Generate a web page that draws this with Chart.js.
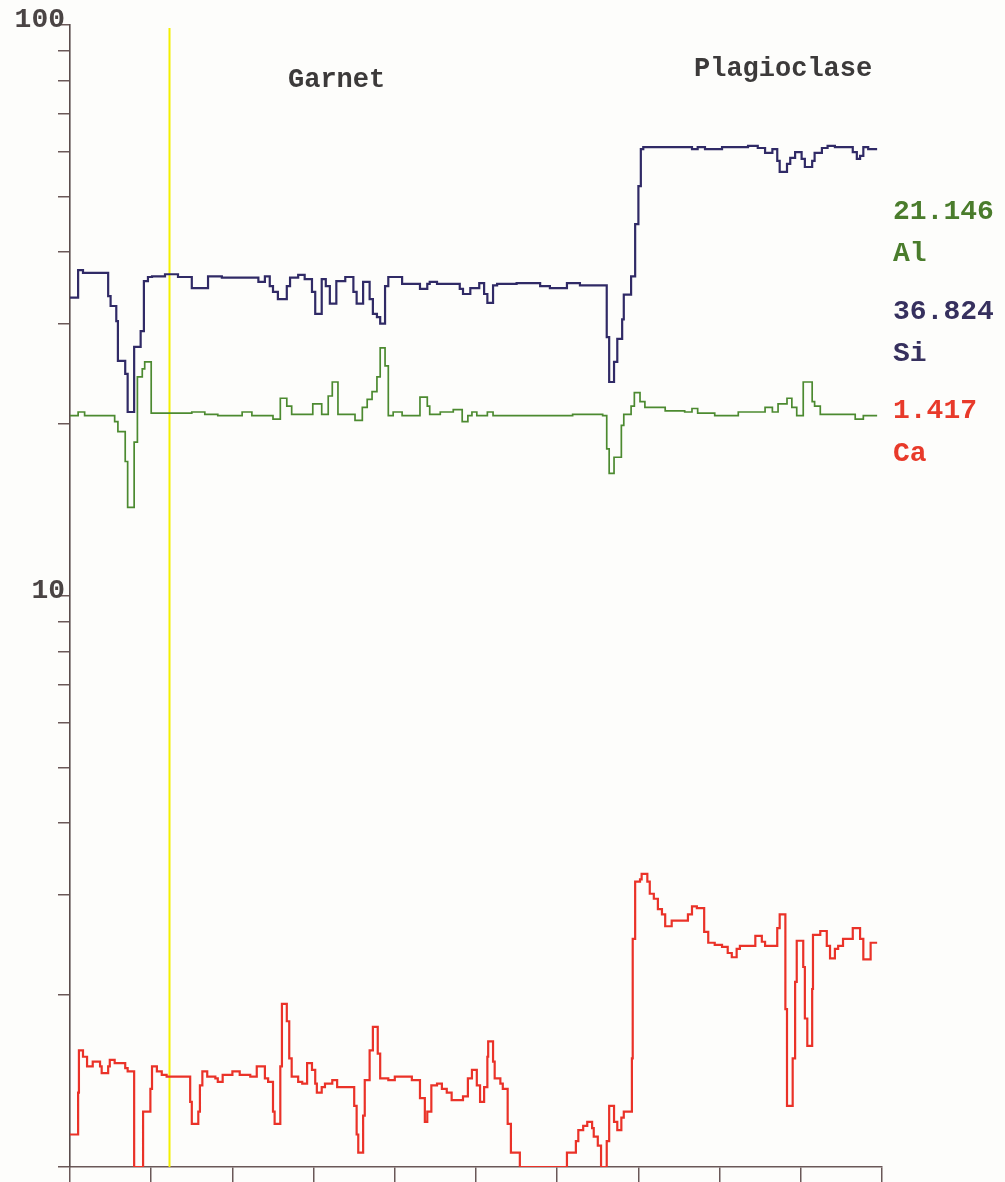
<!DOCTYPE html>
<html>
<head>
<meta charset="utf-8">
<title>Garnet / Plagioclase line scan</title>
<script src="https://cdn.jsdelivr.net/npm/chart.js@4.4.1/dist/chart.umd.min.js"></script>
<style>
  html, body { margin: 0; padding: 0; background: #fdfdfb; }
  #wrap { position: relative; width: 1005px; height: 1182px; }
</style>
</head>
<body>
<div id="wrap"><canvas id="scanChart"></canvas></div>
<script>

// DATA ######################################################################
// step positions along the scan (0-100) and the value holding from each one

var siPos = [0, 1.0, 1.6, 4.7, 5.0, 5.7, 5.9, 6.8, 7.1, 7.9, 8.7, 9.1, 9.6, 10.1, 11.7, 13.3, 15.0, 17.0, 18.7, 23.2,
    24.0, 24.6, 25.0, 25.6, 26.7, 27.1, 28.1, 28.9, 29.8, 30.2, 31.0, 31.5, 32.0, 32.8, 33.9, 34.9, 35.3, 36.1, 36.9, 37.3,
    37.8, 38.2, 38.8, 39.2, 40.9, 43.1, 44.0, 44.3, 45.2, 48.0, 48.4, 49.3, 50.4, 51.0, 51.4, 52.1, 52.6, 55.0, 57.9, 59.1,
    61.2, 62.8, 66.1, 66.4, 67.0, 67.4, 68.0, 68.2, 69.1, 69.6, 70.0, 70.3, 70.6, 76.6, 77.3, 78.2, 80.3, 83.5, 84.7, 85.6,
    86.5, 87.1, 87.4, 88.3, 88.7, 89.3, 90.1, 90.5, 91.4, 91.7, 92.6, 93.3, 94.2, 96.4, 96.9, 97.3, 97.7, 98.3, 99.4];
var siVal = [33.3, 37.2, 36.8, 33.5, 32.2, 30.3, 25.8, 24.5, 21.0, 27.3, 29.1, 35.6, 36.2, 36.3, 36.6, 36.2, 34.6, 36.3, 36.1, 35.5,
    36.3, 34.9, 34.1, 33.1, 34.9, 36.1, 36.5, 35.9, 34.1, 31.2, 35.9, 34.9, 32.5, 35.6, 36.2, 34.1, 32.5, 35.5, 33.1, 31.2,
    30.8, 30.0, 34.9, 36.2, 35.2, 34.5, 35.2, 35.5, 35.2, 34.5, 33.8, 34.6, 35.3, 33.8, 32.6, 35.0, 35.2, 35.3, 34.9, 34.6,
    35.3, 35.0, 28.4, 23.7, 25.7, 28.2, 30.5, 33.7, 36.3, 44.8, 52.2, 60.6, 61.1, 60.6, 61.1, 60.6, 61.1, 61.4, 60.9, 59.7,
    60.6, 57.8, 55.3, 57.1, 58.5, 59.9, 58.3, 56.4, 57.8, 59.7, 60.9, 61.4, 61.1, 59.9, 58.3, 59.0, 61.1, 60.6, 60.6];

var alPos = [0, 1.0, 1.8, 5.5, 5.9, 6.8, 7.1, 7.9, 8.3, 8.9, 9.2, 10.0, 15.0, 16.6, 18.2, 21.2, 22.4, 25.0, 25.9, 26.7,
    27.3, 29.9, 31.0, 31.8, 32.3, 33.0, 35.1, 36.0, 36.6, 37.2, 37.8, 38.2, 38.8, 39.2, 39.8, 40.9, 43.1, 44.0, 44.3, 45.6,
    47.2, 48.3, 49.0, 49.5, 50.1, 51.4, 52.1, 61.9, 65.6, 66.1, 66.4, 67.0, 67.9, 68.2, 69.1, 69.5, 70.2, 70.8, 73.3, 75.7,
    76.6, 77.3, 79.4, 82.3, 85.6, 86.5, 87.2, 88.3, 88.9, 89.5, 90.3, 91.4, 91.7, 92.4, 96.7, 97.7, 99.4];
var alVal = [20.7, 21.0, 20.7, 20.2, 19.4, 17.2, 14.3, 18.6, 24.2, 25.0, 25.7, 20.9, 21.0, 20.8, 20.7, 21.0, 20.7, 20.4, 22.2, 21.5,
    20.8, 21.7, 20.8, 22.4, 23.7, 20.8, 20.3, 21.4, 22.1, 22.8, 24.2, 27.2, 25.3, 20.7, 21.0, 20.7, 22.3, 21.5, 20.8, 21.0,
    21.2, 20.2, 20.7, 21.0, 20.7, 21.0, 20.7, 20.8, 20.7, 18.1, 16.4, 17.5, 19.9, 20.8, 21.5, 22.7, 21.9, 21.4, 21.1, 21.0,
    21.3, 20.9, 20.7, 21.0, 21.4, 21.0, 21.7, 22.2, 21.4, 20.7, 23.7, 21.9, 21.5, 20.8, 20.4, 20.7, 20.7];

var caPos = [0, 1.0, 1.1, 1.6, 2.1, 2.8, 3.7, 3.9, 4.7, 4.9, 5.5, 6.8, 7.1, 7.9, 9.0, 9.9, 10.1, 10.7, 11.3, 11.9,
    14.8, 15.0, 15.8, 16.0, 16.3, 16.9, 17.9, 18.2, 18.8, 20.0, 20.9, 22.2, 23.0, 24.0, 24.4, 25.0, 25.2, 25.9, 26.1, 26.7,
    27.0, 27.3, 28.1, 28.6, 29.2, 29.8, 30.2, 30.4, 31.0, 31.4, 32.3, 32.9, 35.0, 35.3, 35.5, 36.1, 36.3, 36.9, 37.3, 37.9,
    38.2, 39.2, 40.0, 42.1, 43.1, 43.7, 44.0, 44.5, 45.2, 45.8, 46.4, 47.0, 48.4, 49.0, 49.5, 50.1, 50.5, 51.0, 51.4, 51.5,
    52.1, 52.3, 53.0, 53.3, 53.9, 54.3, 55.4, 61.2, 62.3, 62.6, 63.2, 63.7, 64.3, 64.5, 65.0, 65.4, 66.1, 66.4, 67.0, 67.4,
    67.9, 68.2, 69.2, 69.3, 69.6, 70.2, 70.4, 71.1, 71.4, 71.9, 72.4, 72.9, 73.3, 74.1, 76.1, 76.6, 77.2, 78.1, 78.6, 79.4,
    80.3, 81.0, 81.5, 82.1, 82.5, 84.4, 85.2, 85.6, 87.1, 87.4, 88.1, 88.3, 89.0, 89.3, 89.5, 90.3, 90.5, 90.8, 91.4, 91.5,
    92.4, 93.2, 93.6, 94.2, 94.6, 95.2, 96.4, 97.3, 97.7, 98.6, 99.4];
var caVal = [1.14, 1.35, 1.60, 1.56, 1.50, 1.53, 1.50, 1.46, 1.50, 1.54, 1.52, 1.49, 1.47, 1.00, 1.25, 1.37, 1.50, 1.47, 1.45, 1.44,
    1.30, 1.19, 1.25, 1.39, 1.47, 1.44, 1.43, 1.41, 1.45, 1.47, 1.45, 1.44, 1.50, 1.43, 1.41, 1.25, 1.19, 1.50, 1.93, 1.80,
    1.55, 1.44, 1.41, 1.40, 1.52, 1.48, 1.40, 1.35, 1.38, 1.40, 1.42, 1.38, 1.28, 1.14, 1.06, 1.23, 1.42, 1.60, 1.76, 1.58,
    1.43, 1.42, 1.44, 1.42, 1.32, 1.20, 1.25, 1.39, 1.40, 1.37, 1.35, 1.31, 1.33, 1.43, 1.48, 1.39, 1.30, 1.38, 1.56, 1.66,
    1.53, 1.43, 1.40, 1.37, 1.19, 1.06, 1.00, 1.06, 1.11, 1.16, 1.18, 1.20, 1.17, 1.13, 1.09, 1.00, 1.11, 1.28, 1.20, 1.16,
    1.22, 1.25, 1.55, 2.51, 3.16, 3.19, 3.26, 3.16, 3.01, 2.95, 2.83, 2.77, 2.64, 2.70, 2.77, 2.86, 2.84, 2.58, 2.47, 2.45,
    2.43, 2.37, 2.33, 2.41, 2.44, 2.54, 2.48, 2.44, 2.62, 2.77, 1.89, 1.28, 1.55, 2.11, 2.49, 2.24, 1.82, 1.63, 2.05, 2.55,
    2.59, 2.44, 2.32, 2.41, 2.44, 2.51, 2.62, 2.51, 2.31, 2.47, 2.47];

var yTickValues = [1, 2, 3, 4, 5, 6, 7, 8, 9, 10, 20, 30, 40, 50, 60, 70, 80, 90, 100];
var yTickLabels = { 10: "10", 100: "100" };

// cursor position and the readout shown beside the plot
var cursorPos = 12.2;
var phaseNames = ["Garnet", "Plagioclase"];
var readoutElements = ["Al", "Si", "Ca"];
var readoutValues = ["21.146", "36.824", "1.417"];


// HELPERS ###################################################################

var axisColor = "#6a5858";
var siColor = "#302a66";
var alColor = "#4c8a30";
var caColor = "#ea3228";
var monoFont = "'Liberation Mono', 'Courier New', monospace";

function toPoints(pos, val) {
    return pos.map(function (p, i) { return { x: p, y: val[i] }; });
}

// yellow cursor line + phase names + readout column
var overlayPlugin = {
    id: "overlay",
    beforeDatasetsDraw: function (chart) {
        var ctx = chart.ctx;
        var area = chart.chartArea;
        var cx = Math.round(chart.scales.x.getPixelForValue(cursorPos)) + 0.5;
        ctx.save();
        ctx.strokeStyle = "#f4f000";
        ctx.lineWidth = 2;
        ctx.beginPath();
        ctx.moveTo(cx, area.top + 3);
        ctx.lineTo(cx, area.bottom);
        ctx.stroke();
        ctx.restore();
    },
    afterDraw: function (chart) {
        var ctx = chart.ctx;
        ctx.save();
        ctx.textAlign = "left";
        ctx.textBaseline = "alphabetic";

        ctx.font = "bold 27px " + monoFont;
        ctx.fillStyle = "#3c3a3a";
        ctx.fillText(phaseNames[0], 288, 87);
        ctx.fillText(phaseNames[1], 694, 76);

        var colors = ["#4a7c2c", "#36305e", "#e83a2a"];
        var valueY = [219, 319, 418];
        var nameY = [261, 361, 461];
        ctx.font = "bold 28px " + monoFont;
        for (var i = 0; i < readoutValues.length; i++) {
            ctx.fillStyle = colors[i];
            ctx.fillText(readoutValues[i], 893, valueY[i]);
            ctx.fillText(readoutElements[i], 893, nameY[i]);
        }
        ctx.restore();
    }
};


// LINE SCAN CHART ###########################################################

var scanChart = new Chart(document.getElementById("scanChart"), {
    type: "line",
    data: {
        datasets: [
            {
                label: "Si",
                data: toPoints(siPos, siVal),
                borderColor: siColor,
                borderWidth: 2.2,
                stepped: true
            },
            {
                label: "Al",
                data: toPoints(alPos, alVal),
                borderColor: alColor,
                borderWidth: 1.7,
                stepped: true
            },
            {
                label: "Ca",
                data: toPoints(caPos, caVal),
                borderColor: caColor,
                borderWidth: 2.2,
                stepped: true
            }
        ]
    },
    options: {
        responsive: true,
        maintainAspectRatio: false,
        animation: false,
        layout: { padding: { top: 25, right: 123, left: 0, bottom: 0 } },
        elements: { point: { radius: 0 } },
        plugins: {
            legend: { display: false },
            tooltip: { enabled: false }
        },
        scales: {
            x: {
                type: "linear",
                min: 0,
                max: 100,
                ticks: { display: false, stepSize: 10 },
                grid: { drawOnChartArea: false, drawTicks: true, tickLength: 15, color: axisColor, lineWidth: 1.5 },
                border: { color: axisColor, width: 1.6 },
                afterFit: function (scale) { scale.height = 15; }
            },
            y: {
                type: "logarithmic",
                min: 1,
                max: 100,
                afterBuildTicks: function (scale) {
                    scale.ticks = yTickValues.map(function (v) { return { value: v }; });
                },
                ticks: {
                    autoSkip: false,
                    padding: -7,
                    labelOffset: -5,
                    color: "#4a4444",
                    font: { family: monoFont, size: 28, weight: "bold" },
                    callback: function (value) { return yTickLabels[value] || ""; }
                },
                grid: { drawOnChartArea: false, drawTicks: true, tickLength: 12, color: axisColor, lineWidth: 1.5 },
                border: { color: "#5a4c4c", width: 1.6 },
                afterFit: function (scale) { scale.width = 70; }
            }
        }
    },
    plugins: [overlayPlugin]
});
</script>
</body>
</html>
